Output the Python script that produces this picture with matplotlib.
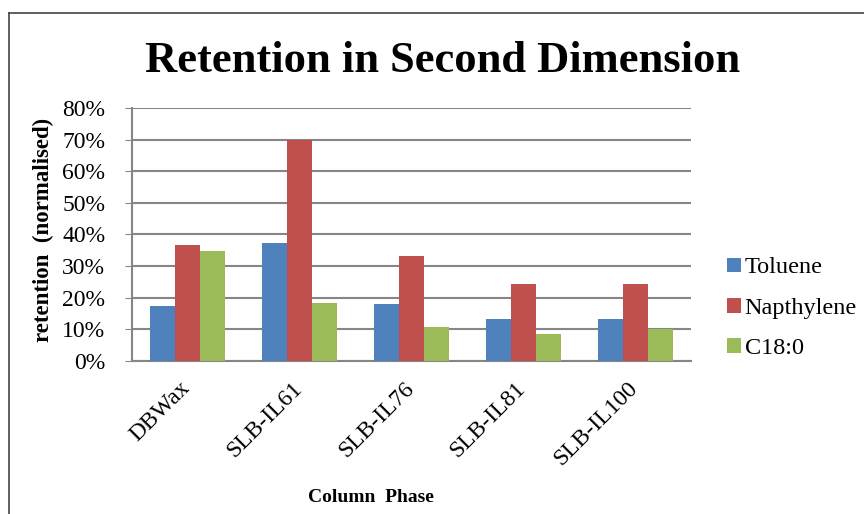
"""Retention in second dimension: grouped bar chart per column phase."""

import matplotlib

matplotlib.use("Agg")
import matplotlib.pyplot as plt  # noqa: E402
import matplotlib.transforms as mtransforms  # noqa: E402
import numpy as np  # noqa: E402
from matplotlib.lines import Line2D  # noqa: E402
from matplotlib.patches import Patch  # noqa: E402
from matplotlib.ticker import PercentFormatter  # noqa: E402

phases = ["DBWax", "SLB-IL61", "SLB-IL76", "SLB-IL81", "SLB-IL100"]
toluene = [17.5, 37.4, 17.9, 13.2, 13.2]
napthylene = [36.8, 70.0, 33.3, 24.3, 24.3]
c18 = [34.7, 18.4, 10.8, 8.4, 10.0]
series_names = ["Toluene", "Napthylene", "C18:0"]
colors = ["#4F81BD", "#C0504D", "#9BBB59"]

plt.rcParams["font.family"] = ["Liberation Serif", "DejaVu Serif"]

fig = plt.figure(figsize=(8.64, 5.14), dpi=100)
ax = fig.add_axes([0.1524, 0.2977, 0.6474, 0.4922])

x = np.arange(len(phases))
width = 0.223
for i, (vals, col) in enumerate(zip([toluene, napthylene, c18], colors)):
    ax.bar(x + (i - 1) * width, vals, width, color=col, zorder=3)

ax.set_xlim(-0.5, len(phases) - 0.5)
ax.set_ylim(0, 80)
ax.set_yticks(range(0, 81, 10))
ax.yaxis.set_major_formatter(PercentFormatter(decimals=0))
ax.grid(axis="y", color="#868686", linewidth=1.5, zorder=0)
for side in ("top", "right"):
    ax.spines[side].set_visible(False)
for side in ("left", "bottom"):
    ax.spines[side].set_color("#868686")
    ax.spines[side].set_linewidth(1.5)
ax.tick_params(axis="y", length=5, color="#868686", labelsize=17, pad=14)
ax.tick_params(axis="x", length=0, labelsize=17, pad=12)
ax.set_xticks(x)
ax.set_xticklabels(phases, rotation=45, ha="right", va="top",
                   rotation_mode="anchor")
# nudge the slanted category labels a little to the left
shift = mtransforms.ScaledTranslation(-8 / 100, 0, fig.dpi_scale_trans)
for lbl in ax.get_xticklabels():
    lbl.set_transform(lbl.get_transform() + shift)

fig.text(0.512, 0.882, "Retention in Second Dimension", ha="center",
         va="center", fontsize=32, fontweight="bold")
fig.text(0.05, 0.553, "retention  (normalised)", rotation=90, ha="center",
         va="center", fontsize=16.5, fontweight="bold")
fig.text(0.429, 0.033, "Column  Phase", ha="center", va="center",
         fontsize=14, fontweight="bold")

handles = [Patch(facecolor=c) for c in colors]
fig.legend(handles, series_names, loc="center left",
           bbox_to_anchor=(0.842, 0.40), frameon=False, fontsize=17.5,
           handlelength=0.55, handleheight=0.55, handletextpad=0.15,
           labelspacing=0.8, borderaxespad=0, borderpad=0)

# outer frame: top and left edges only
fig.add_artist(Line2D([0.0104, 0.0104], [0, 0.975], color="#444444",
                      linewidth=1.2, transform=fig.transFigure))
fig.add_artist(Line2D([0.0104, 1.0], [0.975, 0.975], color="#444444",
                      linewidth=1.2, transform=fig.transFigure))

fig.savefig("out.png", dpi=100)
